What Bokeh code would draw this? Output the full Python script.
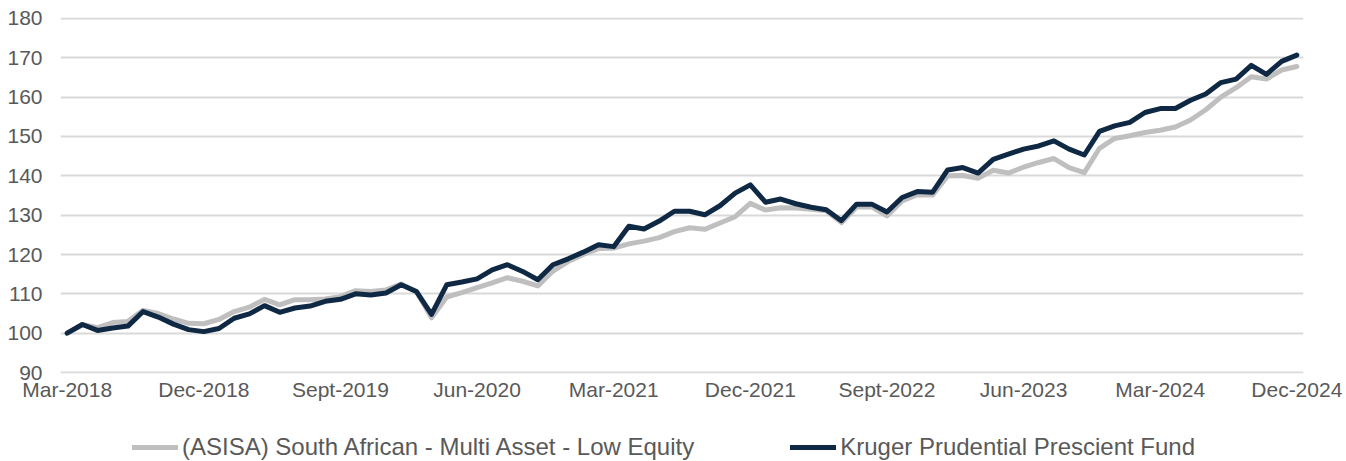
from bokeh.plotting import figure
from bokeh.layouts import column
from bokeh.models import ColumnDataSource, FixedTicker, Range1d, Legend, LegendItem
from bokeh.embed import file_html
from bokeh.resources import INLINE

# Monthly index: 0 = Mar-2018 ... 81 = Dec-2024
tick_positions = [0, 9, 18, 27, 36, 45, 54, 63, 72, 81]
tick_labels = ["Mar-2018", "Dec-2018", "Sept-2019", "Jun-2020", "Mar-2021",
               "Dec-2021", "Sept-2022", "Jun-2023", "Mar-2024", "Dec-2024"]

asisa = [100.0, 102.2, 101.4, 102.7, 103.0, 105.8, 105.0, 103.6, 102.5, 102.4,
         103.5, 105.5, 106.6, 108.6, 107.2, 108.5, 108.5, 108.7, 109.3, 110.8,
         110.6, 111.0, 112.5, 110.6, 103.9, 109.2, 110.3, 111.6, 112.8, 114.1,
         113.2, 112.0, 115.8, 118.2, 120.0, 121.5, 121.6, 122.7, 123.4, 124.3,
         125.8, 126.8, 126.4, 128.0, 129.6, 133.0, 131.3, 131.9, 131.8, 131.5,
         131.1, 128.1, 132.1, 132.1, 129.8, 133.6, 135.2, 135.1, 140.0, 140.1,
         139.4, 141.4, 140.7, 142.2, 143.4, 144.4, 142.1, 140.8, 147.0, 149.5,
         150.2, 151.0, 151.6, 152.4, 154.2, 156.8, 160.0, 162.4, 165.2, 164.6,
         166.9, 167.8]

kruger = [100.0, 102.2, 100.7, 101.3, 101.8, 105.5, 104.1, 102.3, 100.9, 100.4,
          101.2, 103.8, 104.9, 107.0, 105.3, 106.4, 106.9, 108.1, 108.6, 110.0,
          109.7, 110.2, 112.3, 110.6, 104.8, 112.3, 113.0, 113.8, 116.1, 117.4,
          115.7, 113.6, 117.4, 118.9, 120.6, 122.5, 122.0, 127.2, 126.5, 128.5,
          131.0, 131.0, 130.1, 132.4, 135.6, 137.7, 133.3, 134.1, 132.9, 132.0,
          131.4, 128.6, 132.8, 132.8, 130.8, 134.5, 136.0, 135.8, 141.5, 142.1,
          140.7, 144.2, 145.5, 146.8, 147.6, 148.9, 146.8, 145.3, 151.3, 152.7,
          153.6, 156.1, 157.1, 157.1, 159.2, 160.8, 163.7, 164.6, 168.1, 165.8,
          169.1, 170.7]

y_ticks = [90, 100, 110, 120, 130, 140, 150, 160, 170, 180]

series_names = ["(ASISA) South African - Multi Asset - Low Equity",
                "Kruger Prudential Prescient Fund"]

months = list(range(len(kruger)))
src = ColumnDataSource(dict(x=months, asisa=asisa, kruger=kruger))

FONT = "Liberation Sans"
TXT = "#595959"
GREY = "#BFBFBF"
NAVY = "#0F2944"

p = figure(width=1346, height=405, output_backend="svg", toolbar_location=None,
           x_range=Range1d(-0.44, 81.44), y_range=Range1d(89.75, 180.25),
           min_border_left=60, min_border_right=43, min_border_top=17,
           min_border_bottom=32)
p.outline_line_color = None
p.background_fill_color = "white"
p.border_fill_color = "white"

r1 = p.line("x", "asisa", source=src, line_color=GREY, line_width=5,
            line_cap="round", line_join="round")
r2 = p.line("x", "kruger", source=src, line_color=NAVY, line_width=5,
            line_cap="round", line_join="round")

p.xgrid.grid_line_color = None
p.ygrid.grid_line_color = "#D9D9D9"
p.ygrid.grid_line_width = 2
p.ygrid.ticker = FixedTicker(ticks=y_ticks)

p.yaxis.ticker = FixedTicker(ticks=y_ticks)
p.xaxis.ticker = FixedTicker(ticks=tick_positions)
p.xaxis.major_label_overrides = {t: l for t, l in zip(tick_positions, tick_labels)}

for ax in (p.xaxis[0], p.yaxis[0]):
    ax.axis_line_color = None
    ax.major_tick_line_color = None
    ax.minor_tick_line_color = None
    ax.major_tick_in = 0
    ax.major_tick_out = 0
    ax.minor_tick_in = 0
    ax.minor_tick_out = 0
    ax.major_label_text_font = FONT
    ax.major_label_text_font_size = "21px"
    ax.major_label_text_color = TXT
p.yaxis.major_label_standoff = 18
p.xaxis.major_label_standoff = 4

# Legend strip below the chart (its lines lie outside its own view range)
lf = figure(width=1346, height=56, output_backend="svg", toolbar_location=None,
            x_range=Range1d(-10, -9), y_range=Range1d(0, 1),
            min_border_left=0, min_border_right=0, min_border_top=0,
            min_border_bottom=0)
lf.axis.visible = False
lf.grid.visible = False
lf.outline_line_color = None
lf.background_fill_color = "white"
lf.border_fill_color = "white"
l1 = lf.line("x", "asisa", source=src, line_color=GREY, line_width=5, line_cap="round")
l2 = lf.line("x", "kruger", source=src, line_color=NAVY, line_width=5, line_cap="round")

legend = Legend(items=[LegendItem(label=series_names[0], renderers=[l1]),
                       LegendItem(label=series_names[1], renderers=[l2])],
                location=(72, 0), orientation="horizontal",
                glyph_width=46, glyph_height=22, label_standoff=4,
                padding=0, margin=0, spacing=96,
                border_line_color=None, background_fill_alpha=0,
                label_text_font=FONT, label_text_font_size="24px",
                label_text_color=TXT, label_height=22)
lf.add_layout(legend)

layout = column(p, lf, spacing=0)
open("out.html", "w").write(file_html(layout, INLINE))
